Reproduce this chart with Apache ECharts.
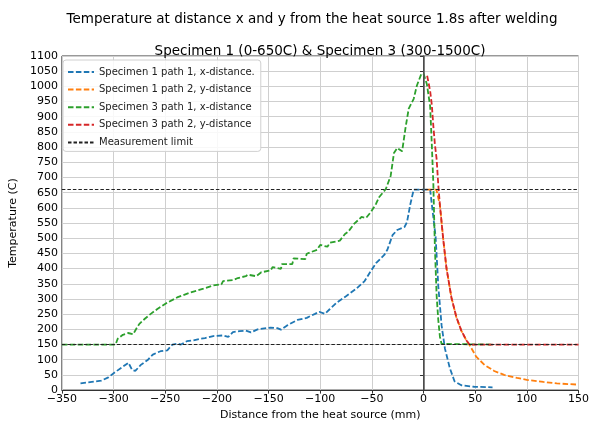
<!DOCTYPE html>
<html>
<head>
<meta charset="utf-8">
<script src="https://cdn.jsdelivr.net/npm/echarts@6/dist/echarts.min.js"></script>
<style>
html,body{margin:0;padding:0;background:#fff;}
#chart{width:592px;height:426px;}
</style>
</head>
<body>
<div id="chart"></div>
<script>
// ---- Data ----
const xTicks = [-350,-300,-250,-200,-150,-100,-50,0,50,100,150];
const yTicks = [0,50,100,150,200,250,300,350,400,450,500,550,600,650,700,750,800,850,900,950,1000,1050,1100];

const s1p1X = [-332,-321,-312,-305,-299,-291,-285.6,-282,-279,-273.6,-267,-262,-257.6,-254.5,-248,-243,-238.5,-234.7,-229,-222.6,-216,-211.5,-203.5,-194,-189,-184.5,-178,-172,-167,-160.6,-148,-141.5,-138,-132,-122,-113,-105,-101,-95.4,-90.6,-84,-74.7,-65,-57,-52.5,-46,-38,-35,-30,-25.5,-18.4,-16,-12.7,-9.5,0,6.4,8,11.7,14.3,17.5,20.7,25.5,30,36.6,49,66.8];
const s1p1Y = [22,27,31,42,58,77,90,66,63,83,99,117,124,128,131,150,153,150,161,164,169,171,178,180,175,191,194,196,190,200,206,204,199,213,231,238,251,258,251,267,288,310,334,359,384,418,445,462,510,527,537,553,613,660,660,660,655,505,342,213,137,72,29,16,11,9];

const s1p2X = [3,6,9,12.5,14.3,15.9,19,22.2,27,31.8,36.6,41.4,44.6,51,59,68.4,78,90.6,100,116,129,149.5];
const s1p2Y = [660,660,660,660,660,608,499,402,305,240,196,164,148,110,83,63,50,40,34,27,22,18];

const s3p1X = [-350,-298,-296,-291,-286,-281,-278,-275,-270,-264,-257.6,-248,-238.5,-226,-213,-203.5,-195.6,-194,-184.5,-179.7,-172,-170,-162,-157,-148,-146,-138,-137,-127,-125.7,-114.5,-113,-103,-100,-93,-90.6,-81,-76,-73,-67,-60,-55.6,-51,-46,-43,-36.5,-31.8,-28.6,-25.5,-20.7,-17.5,-14.3,-9.5,-6.4,-2.2,0,3.2,4.8,6.4,8,9.5,11,12.7,14.3,15.9,17.5,19,66];
const s3p1Y = [150,150,169,182,188,184,202,218,234,251,267,288,305,321,334,345,348,359,362,369,375,380,375,388,394,405,399,415,415,434,431,449,462,478,472,485,492,514,521,548,570,567,586,613,635,662,705,781,797,786,862,927,959,1003,1040,1042,1008,1005,935,810,680,470,310,230,175,152,150,150];

const s3p2X = [3.5,6.4,8,9.5,11,12.7,14.3,15.9,19,22.2,27,31.8,36.6,41.4,44.6,150];
const s3p2Y = [1035,985,940,870,810,760,675,608,499,402,305,240,196,164,150,150];

const limitValues = [150,660];
const heatSourceX = 0;

const seriesNames = ['Specimen 1 path 1, x-distance.','Specimen 1 path 2, y-distance','Specimen 3 path 1, x-distance','Specimen 3 path 2, y-distance','Measurement limit'];
const colors = ['#1f77b4','#ff7f0e','#2ca02c','#d62728','#222222'];

// ---- Build ----
const zip = (xs, ys) => xs.map((x,i)=>[x, ys[i]]);
const FONT = 'DejaVu Sans';
const minus = v => String(v).replace('-', '\u2212');
const dash = [5.5, 2.4];

function lineSeries(name, data, color){
  return {
    name, type:'line', data, showSymbol:false, symbol:'none',
    lineStyle:{color, width:1.8, type:dash},
    itemStyle:{color},
    animation:false, z:3
  };
}

const chart = echarts.init(document.getElementById('chart'), null, {renderer:'canvas'});
chart.setOption({
  animation:false,
  backgroundColor:'#fff',
  title:[
    {text:'Temperature at distance x and y from the heat source 1.8s after welding', left:307, top:7, textAlign:'center',
     textStyle:{fontFamily:FONT, fontSize:13.5, fontWeight:'normal', color:'#000'}},
    {text:'Specimen 1 (0-650C) & Specimen 3 (300-1500C)', left:315, top:39, textAlign:'center',
     textStyle:{fontFamily:FONT, fontSize:13.5, fontWeight:'normal', color:'#000'}}
  ],
  legend:{
    orient:'vertical', left:63, top:60,
    data:seriesNames,
    itemWidth:26, itemHeight:10, itemGap:7.6,
    padding:[7,6,4,4],
    itemStyle:{opacity:0},
    backgroundColor:'rgba(255,255,255,0.85)',
    borderColor:'#d0d0d0', borderWidth:1, borderRadius:3,
    textStyle:{fontFamily:FONT, fontSize:10, color:'#222'}
  },
  grid:{left:58, right:10, top:56, bottom:30, show:true, borderColor:'#333', borderWidth:1},
  xAxis:{
    type:'value', min:-350, max:150, interval:50,
    name:'Distance from the heat source (mm)', nameLocation:'middle', nameGap:17,
    nameTextStyle:{fontFamily:FONT, fontSize:11, color:'#000'},
    axisLine:{show:true, lineStyle:{color:'#333'}},
    axisTick:{show:true, length:3.5, lineStyle:{color:'#333'}},
    axisLabel:{fontFamily:FONT, fontSize:11, color:'#000', margin:4, formatter:minus},
    splitLine:{show:true, lineStyle:{color:'#cfcfcf', width:1}}
  },
  yAxis:{
    type:'value', min:0, max:1100, interval:50,
    name:'Temperature (C)', nameLocation:'middle', nameGap:42, nameRotate:90,
    nameTextStyle:{fontFamily:FONT, fontSize:11, color:'#000'},
    axisLine:{show:true, lineStyle:{color:'#333'}},
    axisTick:{show:true, length:3.5, lineStyle:{color:'#333'}},
    axisLabel:{fontFamily:FONT, fontSize:11, color:'#000', margin:4, formatter:minus},
    splitLine:{show:true, lineStyle:{color:'#cfcfcf', width:1}}
  },
  series:[
    {
      name:seriesNames[4], type:'line', data:[], symbol:'none',
      lineStyle:{color:'#222', width:1, type:[3.5,2]}, itemStyle:{color:'#222'},
      z:2,
      markLine:{
        silent:true, symbol:'none', label:{show:false}, animation:false,
        data:[
          {yAxis:limitValues[0], lineStyle:{color:'#222', width:1, type:[3.5,2]}},
          {yAxis:limitValues[1], lineStyle:{color:'#222', width:1, type:[3.5,2]}},
          {xAxis:heatSourceX, lineStyle:{color:'#555', width:1.5, type:'solid'}}
        ]
      }
    },
    lineSeries(seriesNames[0], zip(s1p1X, s1p1Y), colors[0]),
    lineSeries(seriesNames[1], zip(s1p2X, s1p2Y), colors[1]),
    lineSeries(seriesNames[2], zip(s3p1X, s3p1Y), colors[2]),
    lineSeries(seriesNames[3], zip(s3p2X, s3p2Y), colors[3])
  ]
});
</script>
</body>
</html>
